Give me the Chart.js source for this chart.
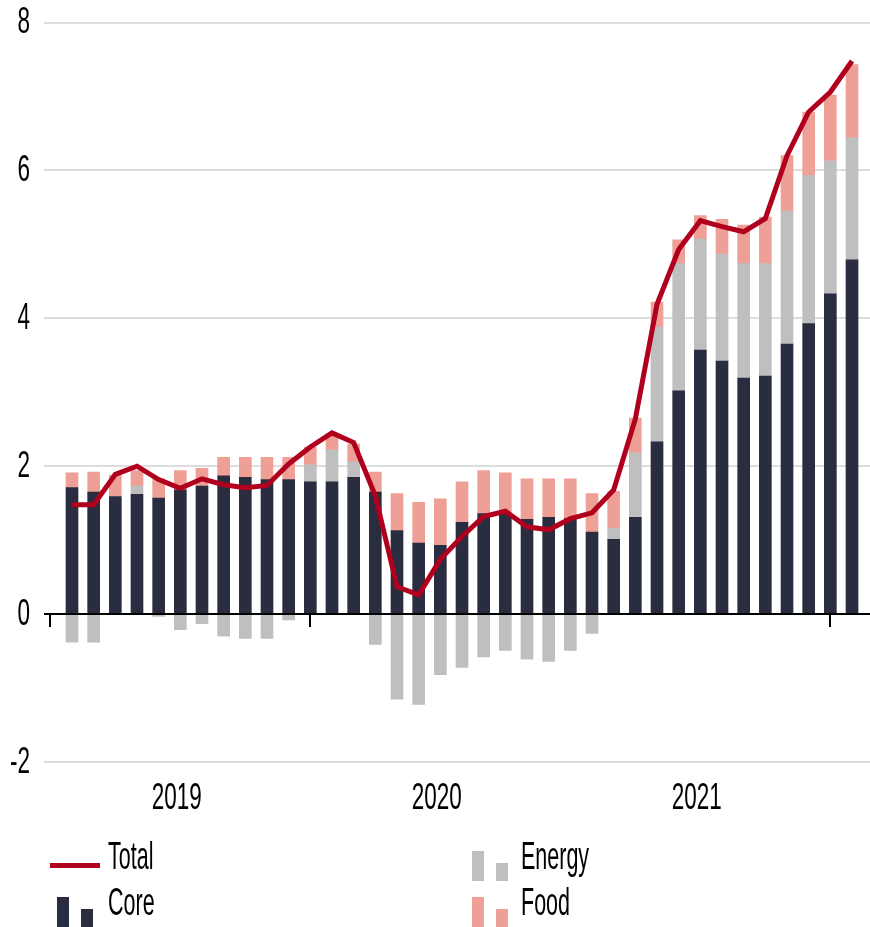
<!DOCTYPE html>
<html>
<head>
<meta charset="utf-8">
<script src="https://cdn.jsdelivr.net/npm/chart.js@4.4.1/dist/chart.umd.min.js"></script>
<style>
html,body{margin:0;padding:0;background:#fff;}
#wrap{position:relative;width:870px;height:927px;overflow:hidden;}
#chart{position:absolute;left:0;top:0;}
.lg{position:absolute;display:block;font-family:"Liberation Sans",Arial,sans-serif;font-size:21.5px;line-height:21.5px;color:#000;transform-origin:0 0;transform:scaleY(1.82);white-space:nowrap;}
.sw{position:absolute;}
</style>
</head>
<body>
<div id="wrap">
  <canvas id="chart" width="870" height="927"></canvas>
  <div id="legend"></div>
</div>
<script>
// ---- data ----
const months = [
  'Jan 2019','Feb 2019','Mar 2019','Apr 2019','May 2019','Jun 2019','Jul 2019','Aug 2019','Sep 2019','Oct 2019','Nov 2019','Dec 2019',
  'Jan 2020','Feb 2020','Mar 2020','Apr 2020','May 2020','Jun 2020','Jul 2020','Aug 2020','Sep 2020','Oct 2020','Nov 2020','Dec 2020',
  'Jan 2021','Feb 2021','Mar 2021','Apr 2021','May 2021','Jun 2021','Jul 2021','Aug 2021','Sep 2021','Oct 2021','Nov 2021','Dec 2021',
  'Jan 2022'
];
const coreValues = [1.71,1.65,1.59,1.62,1.57,1.68,1.73,1.87,1.85,1.82,1.82,1.79,
                    1.79,1.85,1.65,1.13,0.96,0.93,1.24,1.36,1.36,1.28,1.31,1.29,
                    1.11,1.01,1.31,2.33,3.02,3.57,3.42,3.19,3.22,3.65,3.93,4.33,
                    4.79];
const energyValues = [-0.38,-0.38,0,0.11,-0.03,-0.21,-0.13,-0.30,-0.33,-0.33,-0.08,0.23,
                      0.43,0.21,-0.41,-1.15,-1.22,-0.82,-0.72,-0.58,-0.49,-0.61,-0.64,-0.49,
                      -0.26,0.15,0.87,1.55,1.72,1.50,1.45,1.55,1.52,1.80,2.00,1.80,
                      1.65];
const foodValues = [0.20,0.27,0.29,0.21,0.26,0.26,0.24,0.25,0.27,0.30,0.30,0.24,
                    0.22,0.24,0.27,0.50,0.55,0.63,0.55,0.58,0.55,0.55,0.52,0.54,
                    0.52,0.50,0.47,0.34,0.32,0.32,0.47,0.52,0.63,0.75,0.86,0.89,
                    0.99];
const totalValues = [1.48,1.48,1.89,2.00,1.82,1.70,1.83,1.75,1.71,1.74,2.03,2.26,
                     2.45,2.32,1.60,0.37,0.26,0.74,1.05,1.32,1.39,1.18,1.14,1.29,
                     1.37,1.68,2.64,4.19,4.93,5.32,5.24,5.17,5.35,6.20,6.79,7.06,
                     7.48];
const yearLabels = ['2019','2020','2021'];
const yTickValues = [-2,0,2,4,6,8];

// ---- styles ----
const CORE = '#2a2d40', ENERGY = '#bfbfbf', FOOD = '#eea096', RED = '#b0001e';
const FONT = '"Liberation Sans", Arial, sans-serif';

// year boundary ticks sit at December positions (Dec of previous year .. Dec of last year)
const boundaryIdx = [];
for (let k = 0; k <= yearLabels.length; k++) boundaryIdx.push(k * 12 - 1);

const pts = arr => arr.map((v, i) => ({x: i, y: v}));

const decor = {
  id: 'decor',
  beforeDatasetsDraw(chart) {
    const {ctx, scales: {x, y}} = chart;
    const y0 = y.getPixelForValue(0);
    ctx.save();
    ctx.strokeStyle = '#000';
    ctx.lineWidth = 2;
    boundaryIdx.forEach(i => {
      const px = Math.round(x.getPixelForValue(i));
      ctx.beginPath(); ctx.moveTo(px, y0); ctx.lineTo(px, y0 + 13); ctx.stroke();
    });
    ctx.restore();
  },
  afterDatasetsDraw(chart) {
    const {ctx, chartArea, scales: {y}} = chart;
    const y0 = y.getPixelForValue(0);
    ctx.save();
    ctx.strokeStyle = '#000';
    ctx.lineWidth = 2;
    ctx.beginPath(); ctx.moveTo(chartArea.left, y0); ctx.lineTo(chartArea.right, y0); ctx.stroke();
    ctx.restore();
  },
  afterDraw(chart) {
    const {ctx, scales: {x, y}} = chart;
    ctx.save();
    ctx.fillStyle = '#000';
    ctx.font = '22.5px ' + FONT;
    ctx.textAlign = 'right';
    ctx.textBaseline = 'alphabetic';
    yTickValues.forEach(v => {
      const py = y.getPixelForValue(v);
      ctx.save();
      ctx.translate(30, py + 10.5);
      ctx.scale(1, 1.68);
      ctx.fillText(String(v), 0, 0);
      ctx.restore();
    });
    ctx.textAlign = 'center';
    yearLabels.forEach((lab, k) => {
      const mid = (boundaryIdx[k] + boundaryIdx[k + 1]) / 2;
      const px = x.getPixelForValue(mid) - 3.5;
      ctx.save();
      ctx.translate(px, 809);
      ctx.scale(1, 1.68);
      ctx.fillText(lab, 0, 0);
      ctx.restore();
    });
    ctx.restore();
  }
};

new Chart(document.getElementById('chart'), {
  data: {
    datasets: [
      {type: 'line', label: 'Total', data: pts(totalValues), borderColor: RED, backgroundColor: RED,
       borderWidth: 5, pointRadius: 0, tension: 0, stack: 'total', order: 0},
      {type: 'bar', label: 'Core', data: pts(coreValues), backgroundColor: CORE, barThickness: 12, stack: 'parts', order: 2},
      {type: 'bar', label: 'Energy', data: pts(energyValues), backgroundColor: ENERGY, barThickness: 12, stack: 'parts', order: 2},
      {type: 'bar', label: 'Food', data: pts(foodValues), backgroundColor: FOOD, barThickness: 12, stack: 'parts', order: 2}
    ]
  },
  options: {
    responsive: false,
    animation: false,
    devicePixelRatio: 1,
    layout: {padding: {left: 44, right: 0, top: 22.5, bottom: 165}},
    plugins: {legend: {display: false}, tooltip: {enabled: false}},
    scales: {
      x: {type: 'linear', min: -1.292, max: 36.83, offset: false, display: false, stacked: true,
          grid: {offset: false}},
      y: {min: -2, max: 8, stacked: true,
          ticks: {display: false, stepSize: 2},
          grid: {drawTicks: false, color: '#dddddd', lineWidth: 2},
          border: {display: false}}
    }
  },
  plugins: [decor]
});

// ---- HTML legend ----
const legend = document.getElementById('legend');
function add(cls, css, text) {
  const d = document.createElement('div');
  d.className = cls;
  Object.assign(d.style, css);
  if (text) d.textContent = text;
  legend.appendChild(d);
}
const legendItems = [
  {label: 'Total', kind: 'line', color: RED, col: 0, row: 0},
  {label: 'Core', kind: 'bar', color: CORE, col: 0, row: 1},
  {label: 'Energy', kind: 'bar', color: ENERGY, col: 1, row: 0},
  {label: 'Food', kind: 'bar', color: FOOD, col: 1, row: 1}
];
legendItems.forEach(it => {
  const colX = it.col === 0 ? 50 : 472;
  const baseY = it.row === 0 ? 871 : 917;
  const bottom = it.row === 0 ? 881 : 927;
  if (it.kind === 'line') {
    add('sw', {left: colX + 'px', top: (baseY - 8) + 'px', width: '50px', height: '5px', background: it.color});
  } else {
    const bx = it.col === 0 ? colX + 7 : colX;
    add('sw', {left: bx + 'px', top: (bottom - 30) + 'px', width: '12px', height: '30px', background: it.color});
    add('sw', {left: (bx + 24) + 'px', top: (bottom - 18) + 'px', width: '12px', height: '18px', background: it.color});
  }
  const tx = it.col === 0 ? 108 : 521;
  add('lg', {left: tx + 'px', top: (baseY - 33.1) + 'px'}, it.label);
});
</script>
</body>
</html>
